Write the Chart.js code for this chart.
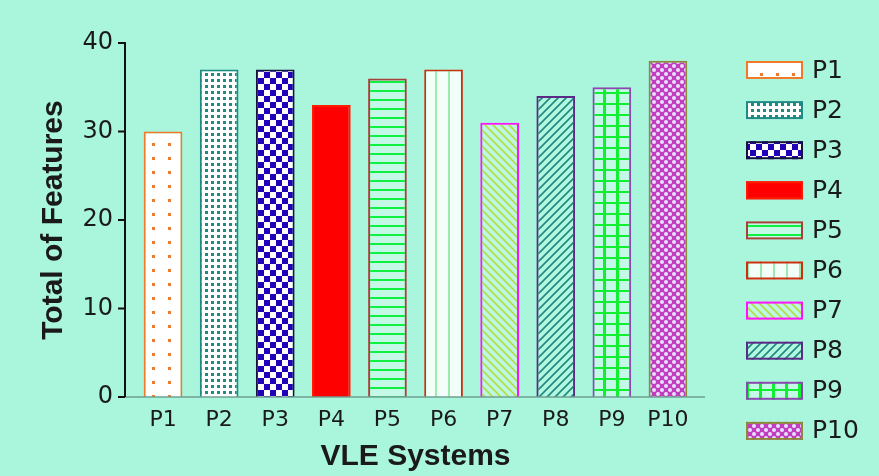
<!DOCTYPE html>
<html>
<head>
<meta charset="utf-8">
<script src="https://cdn.jsdelivr.net/npm/chart.js@4.4.0/dist/chart.umd.min.js"></script>
<style>
  html, body { margin: 0; padding: 0; background: #aaf6dc; }
  canvas { display: block; }
</style>
</head>
<body>
<canvas id="chart" width="879" height="476"></canvas>
<script>
// ----------------- DATA -----------------
const categories = ["P1", "P2", "P3", "P4", "P5", "P6", "P7", "P8", "P9", "P10"];
const features = [30, 37, 37, 33, 36, 37, 31, 34, 35, 38];
const yTicks = [0, 10, 20, 30, 40];

// ----------------- STYLES -----------------
const TEXT = "#1a1a1a";
const edgeColors = ["#f07a2a", "#1f8a84", "#15153a", "#ff1a00", "#a8403a",
                    "#c8300e", "#ff10ff", "#5a2a86", "#8a48b0", "#8c8a3a"];

const canvas = document.getElementById("chart");
const ctx = canvas.getContext("2d");

// ----------------- PATTERNS -----------------
function tile(w, h, paint) {
    const c = document.createElement("canvas");
    c.width = w; c.height = h;
    paint(c.getContext("2d"), w, h);
    return ctx.createPattern(c, "repeat");
}

function diag(g, w, color, up) {
    g.strokeStyle = color; g.lineWidth = 1.6;
    g.beginPath();
    if (up) {
        g.moveTo(-1, w + 1); g.lineTo(w + 1, -1);
        g.moveTo(-1, 1); g.lineTo(1, -1);
        g.moveTo(w - 1, w + 1); g.lineTo(w + 1, w - 1);
    } else {
        g.moveTo(-1, -1); g.lineTo(w + 1, w + 1);
        g.moveTo(-1, w - 1); g.lineTo(1, w + 1);
        g.moveTo(w - 1, -1); g.lineTo(w + 1, 1);
    }
    g.stroke();
}

const fills = [
    tile(16, 14, (g, w, h) => { g.fillStyle = "#fff"; g.fillRect(0, 0, w, h); g.fillStyle = "#ee7a30"; g.fillRect(8, 3, 3, 3); }),
    tile(6, 6, (g, w, h) => { g.fillStyle = "#fff"; g.fillRect(0, 0, w, h); g.fillStyle = "#1f8a80"; g.fillRect(1, 1, 3, 3); }),
    tile(12, 12, (g, w, h) => { g.fillStyle = "#fff"; g.fillRect(0, 0, w, h); g.fillStyle = "#2200b8"; g.fillRect(0, 0, 6, 6); g.fillRect(6, 6, 6, 6); }),
    "#ff0000",
    tile(4, 9, (g, w, h) => { g.fillStyle = "rgba(255,255,255,0.3)"; g.fillRect(0, 0, w, h); g.fillStyle = "#10f040"; g.fillRect(0, 0, w, 2); }),
    tile(13, 4, (g, w, h) => { g.fillStyle = "#f2fff8"; g.fillRect(0, 0, w, h); g.fillStyle = "#9eeaae"; g.fillRect(6, 0, 2, h); }),
    tile(8, 8, (g, w) => { g.fillStyle = "rgba(255,255,255,0.2)"; g.fillRect(0, 0, w, w); diag(g, w, "#b6de40", false); }),
    tile(8, 8, (g, w) => { g.fillStyle = "rgba(255,255,255,0.1)"; g.fillRect(0, 0, w, w); diag(g, w, "#20887e", true); }),
    tile(13, 11, (g, w, h) => { g.fillStyle = "rgba(255,255,255,0.3)"; g.fillRect(0, 0, w, h); g.fillStyle = "#10f030"; g.fillRect(5, 0, 3, h); g.fillRect(0, 4, w, 2); }),
    tile(8, 8, (g, w) => {
        g.fillStyle = "#c23cbe"; g.fillRect(0, 0, w, w);
        g.fillStyle = "#e4e2ff";
        [[2, 2], [6, 6]].forEach(p => { g.beginPath(); g.arc(p[0], p[1], 2, 0, Math.PI * 2); g.fill(); });
    })
];

// ----------------- AXIS LINES -----------------
const axisLines = {
    id: "axisLines",
    afterDatasetsDraw(chart) {
        const { ctx, chartArea: a, scales: { y } } = chart;
        const axisX = a.left - 10;
        ctx.save();
        ctx.strokeStyle = "#6f9f92";
        ctx.lineWidth = 1.5;
        ctx.beginPath();
        ctx.moveTo(axisX, a.bottom);
        ctx.lineTo(a.right + 9, a.bottom);
        ctx.stroke();

        ctx.strokeStyle = "#111";
        ctx.lineWidth = 2;
        ctx.beginPath();
        ctx.moveTo(axisX, y.getPixelForValue(yTicks[yTicks.length - 1]) - 1);
        ctx.lineTo(axisX, a.bottom);
        yTicks.forEach(v => {
            const py = y.getPixelForValue(v);
            ctx.moveTo(axisX - 7, py);
            ctx.lineTo(axisX, py);
        });
        ctx.stroke();
        ctx.restore();
    }
};

// ----------------- LEGEND -----------------
const sideLegend = {
    id: "sideLegend",
    afterDraw(chart) {
        const { ctx, chartArea: a } = chart;
        const ds = chart.data.datasets[0];
        const x0 = a.right + 50;
        ctx.save();
        chart.data.labels.forEach((label, i) => {
            const cy = a.top + 27 + i * 40.1;
            ctx.fillStyle = ds.backgroundColor[i];
            ctx.fillRect(x0, cy - 9, 57, 18);
            ctx.strokeStyle = ds.borderColor[i];
            ctx.lineWidth = 2;
            ctx.strokeRect(x0 + 1, cy - 8, 55, 16);
            ctx.fillStyle = TEXT;
            ctx.font = "25px 'DejaVu Sans'";
            ctx.textBaseline = "middle";
            ctx.textAlign = "left";
            ctx.fillText(label, x0 + 66, cy + 1);
        });
        ctx.restore();
    }
};

// ----------------- CHART -----------------
new Chart(ctx, {
    type: "bar",
    data: {
        labels: categories,
        datasets: [{
            data: features,
            backgroundColor: fills,
            borderColor: edgeColors,
            borderWidth: 2,
            barPercentage: 0.69,
            categoryPercentage: 1
        }]
    },
    options: {
        responsive: false,
        animation: false,
        devicePixelRatio: 1,
        layout: { padding: { top: 43, right: 183, bottom: 0, left: 0 } },
        plugins: { legend: { display: false }, tooltip: { enabled: false } },
        scales: {
            x: {
                grid: { display: false, drawTicks: false },
                border: { display: false },
                ticks: { color: TEXT, padding: 10, font: { family: "DejaVu Sans", size: 22 } },
                title: {
                    display: true, text: "VLE Systems", color: TEXT,
                    font: { family: "Liberation Sans", size: 30, weight: "bold" },
                    padding: { top: 0, bottom: 1 }
                },
                afterFit: s => { s.height = 79; }
            },
            y: {
                min: 0,
                max: 40,
                afterBuildTicks: s => { s.ticks = yTicks.map(v => ({ value: v })); },
                grid: { display: false, drawTicks: false },
                border: { display: false },
                ticks: { color: TEXT, padding: 22, font: { family: "DejaVu Sans", size: 24 } },
                title: {
                    display: true, text: "Total of Features", color: TEXT,
                    font: { family: "Liberation Sans", size: 30, weight: "bold" },
                    padding: { top: 36, bottom: 0 }
                },
                afterFit: s => { s.width = 135; }
            }
        }
    },
    plugins: [axisLines, sideLegend]
});
</script>
</body>
</html>
